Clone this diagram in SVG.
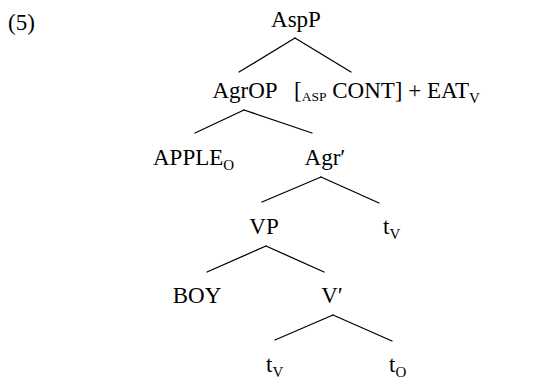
<svg xmlns="http://www.w3.org/2000/svg" width="543" height="381" viewBox="0 0 543 381">
<style>
text{font-family:"Liberation Serif","Times New Roman",serif;font-size:23px;fill:#000}
.sub{font-size:15px}
.sc{font-size:13.5px}
#edges line{stroke:#000;stroke-width:1.3;stroke-linecap:round}
</style>
<rect width="543" height="381" fill="#fff"/>
<text x="8" y="30">(5)</text>
<g id="edges">
<line x1="295" y1="38" x2="239" y2="72"/>
<line x1="295" y1="38" x2="351" y2="72"/>
<line x1="244" y1="110" x2="195" y2="133"/>
<line x1="244" y1="110" x2="312" y2="133"/>
<line x1="321" y1="177" x2="262" y2="202"/>
<line x1="321" y1="177" x2="379" y2="203"/>
<line x1="266" y1="246" x2="207" y2="272"/>
<line x1="266" y1="246" x2="324" y2="272"/>
<line x1="333" y1="315" x2="275" y2="340"/>
<line x1="333" y1="315" x2="392" y2="341"/>
</g>
<g id="n-AspP"><text x="296" y="27" text-anchor="middle">AspP</text></g>
<g id="n-AgrOP"><text x="245" y="98" text-anchor="middle">AgrOP</text></g>
<g id="n-head"><text x="294" y="98">[<tspan class="sc" dy="3">ASP</tspan><tspan dy="-3"> CONT] + EAT</tspan><tspan class="sub" dy="5">V</tspan></text></g>
<g id="n-APPLE"><text x="153" y="165">APPLE<tspan class="sub" dy="5">O</tspan></text></g>
<g id="n-Agr1"><text x="325" y="165" text-anchor="middle">Agr′</text></g>
<g id="n-VP"><text x="264" y="234" text-anchor="middle">VP</text></g>
<g id="n-tV1"><text x="383" y="234">t<tspan class="sub" dy="5">V</tspan></text></g>
<g id="n-BOY"><text x="197" y="303" text-anchor="middle">BOY</text></g>
<g id="n-V1"><text x="332" y="303" text-anchor="middle">V′</text></g>
<g id="n-tV2"><text x="266" y="372">t<tspan class="sub" dy="5">V</tspan></text></g>
<g id="n-tO"><text x="389" y="372">t<tspan class="sub" dy="5">O</tspan></text></g>
</svg>
